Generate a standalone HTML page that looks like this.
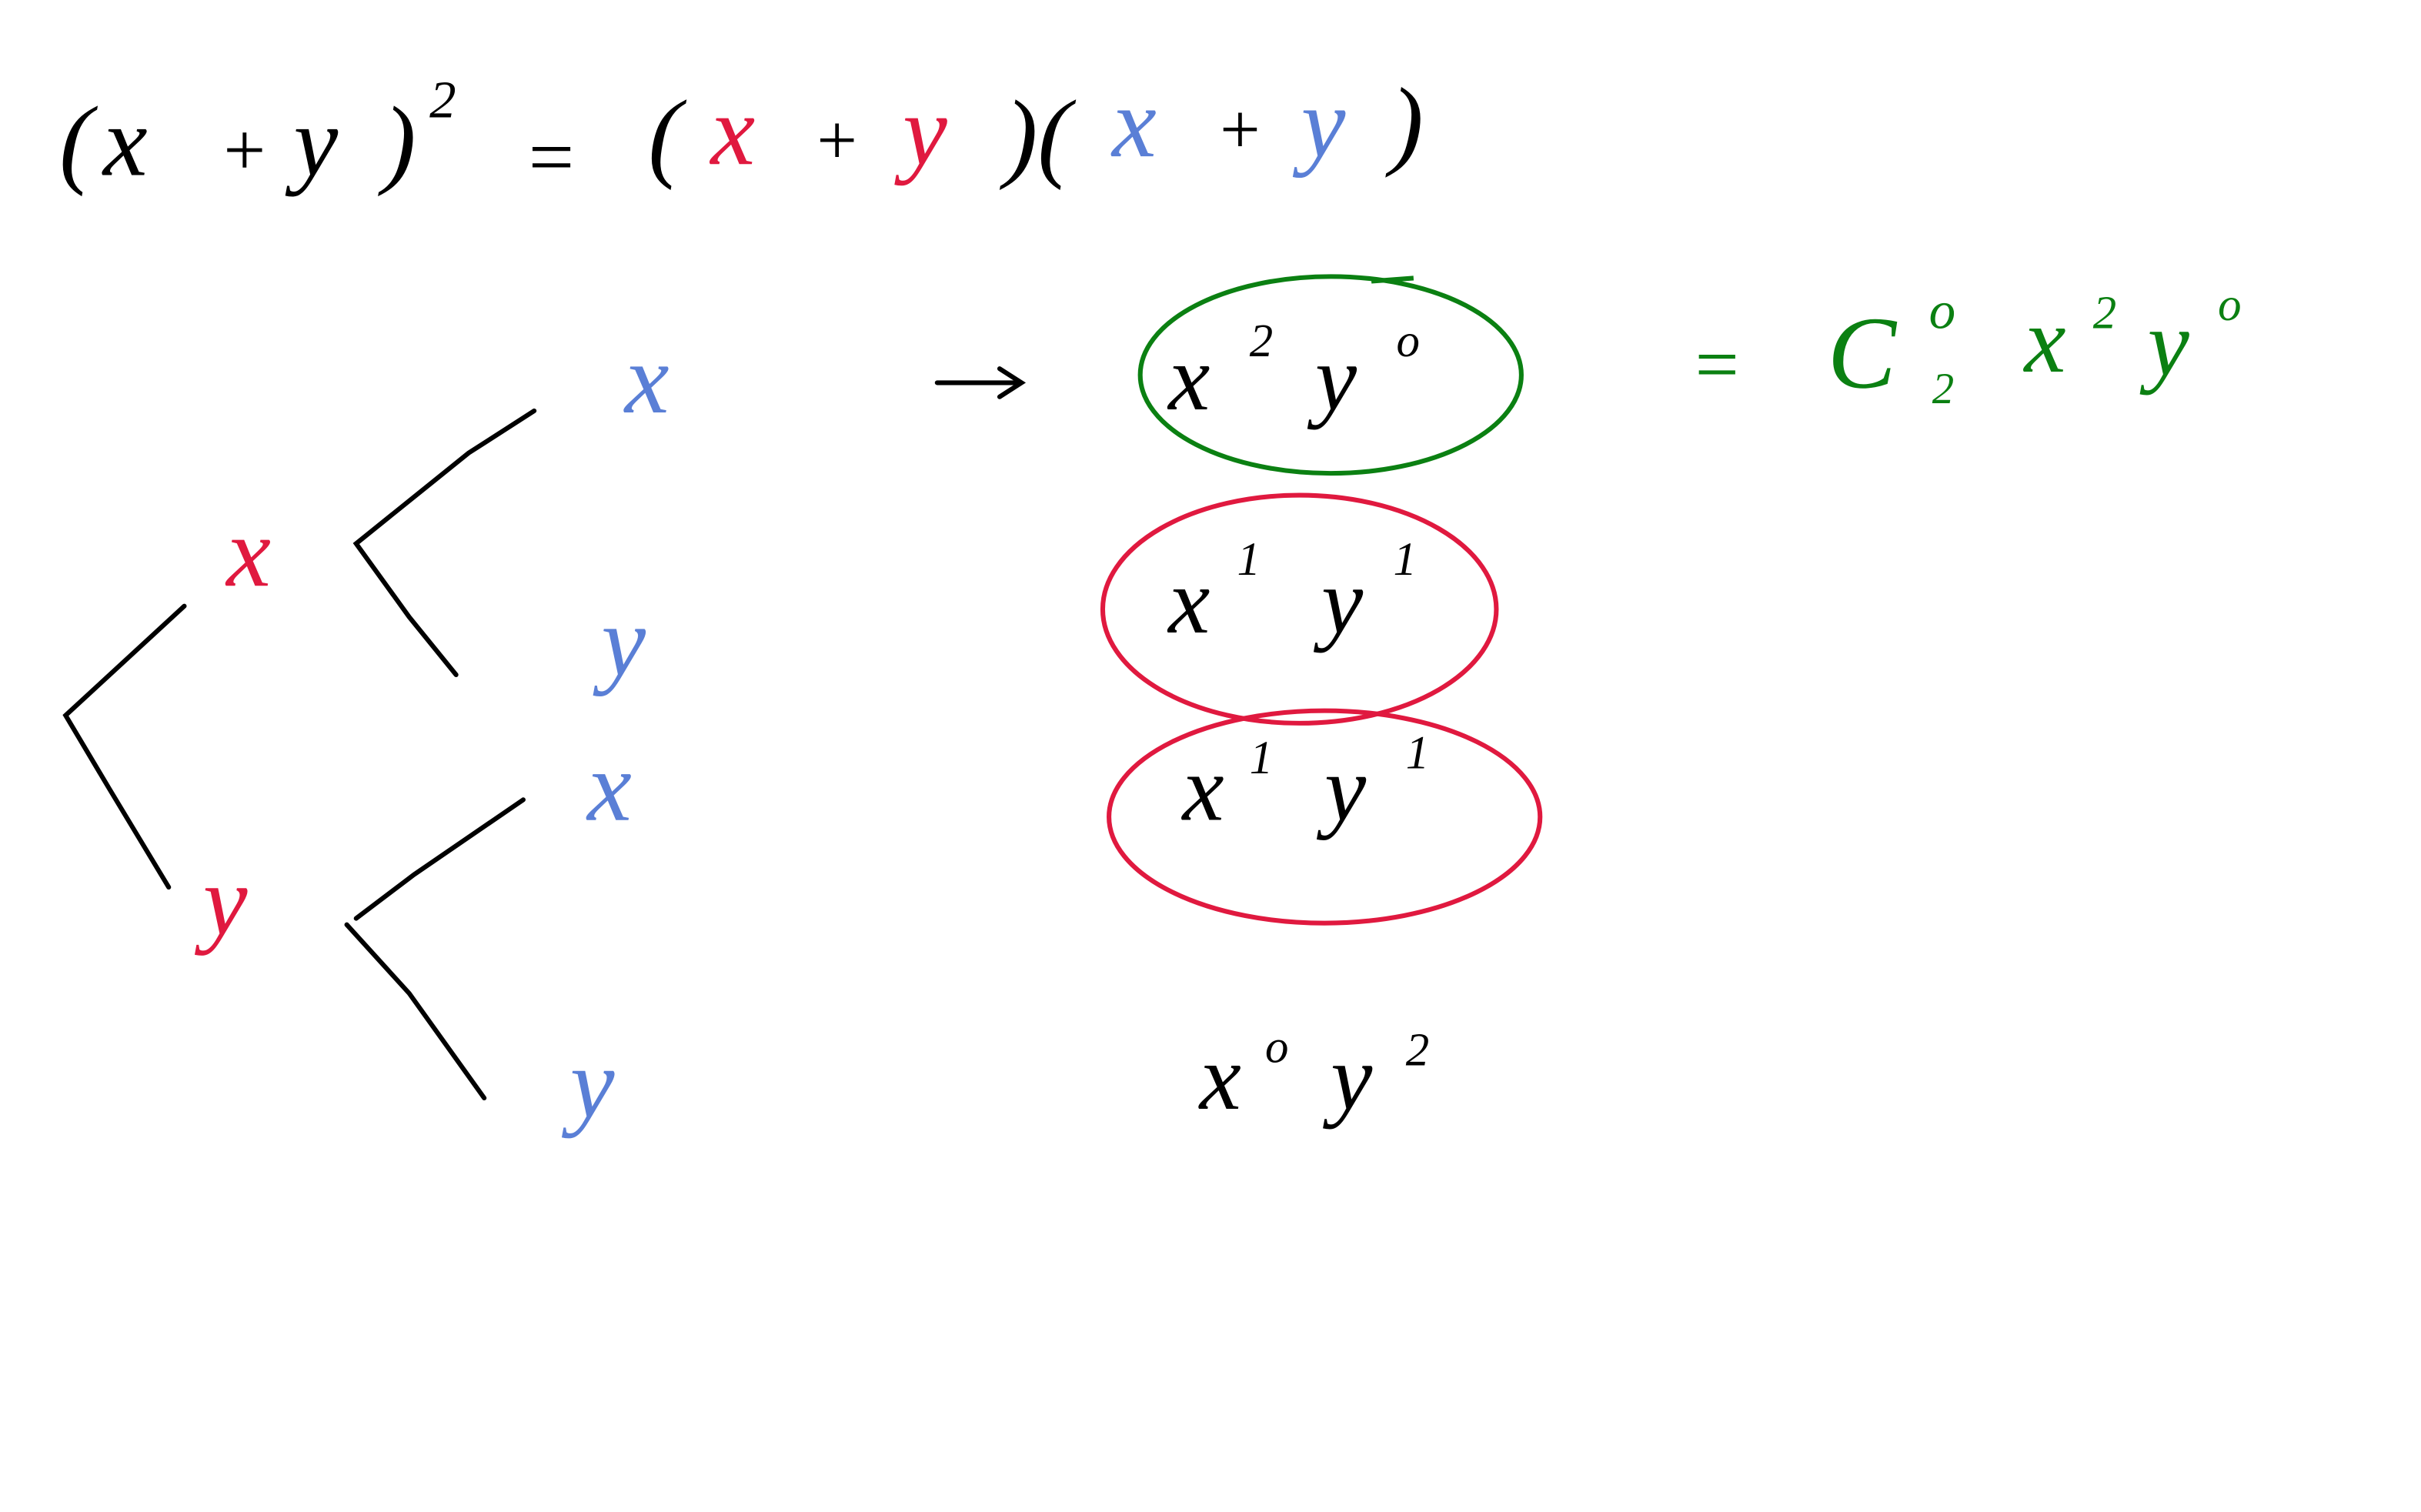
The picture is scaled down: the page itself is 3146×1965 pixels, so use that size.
<!DOCTYPE html>
<html><head><meta charset="utf-8"><style>
html,body{margin:0;padding:0;background:#fff;}
svg{display:block}
text{font-family:"Liberation Serif",serif;font-style:italic;}
</style></head><body>
<svg width="3146" height="1965" viewBox="0 0 1550 968" xmlns="http://www.w3.org/2000/svg">
<rect width="1550" height="968" fill="#fff"/>
<g font-size="64">
  <!-- top equation -->
  <text x="38" y="112" fill="#000" font-style="normal">(</text>
  <text x="66" y="112" fill="#000">x</text>
  <text x="140" y="112" fill="#000" font-style="normal" font-size="48">+</text>
  <text x="188" y="112" fill="#000">y</text>
  <text x="245" y="112" fill="#000" font-style="normal">)</text>
  <text x="275" y="75" fill="#000" font-size="34" font-style="normal">2</text>
  <text x="335" y="118" fill="#000" font-style="normal" font-size="52">=</text>
  <text x="415" y="108" fill="#000" font-style="normal">(</text>
  <text x="455" y="105" fill="#e0193f">x</text>
  <text x="520" y="105" fill="#000" font-style="normal" font-size="46">+</text>
  <text x="578" y="105" fill="#e0193f">y</text>
  <text x="643" y="108" fill="#000" font-style="normal">)(</text>
  <text x="712" y="100" fill="#5a7fd6">x</text>
  <text x="778" y="98" fill="#000" font-style="normal" font-size="46">+</text>
  <text x="833" y="100" fill="#5a7fd6">y</text>
  <text x="890" y="100" fill="#000" font-style="normal">)</text>
</g>
<!-- tree lines -->
<g stroke="#000" stroke-width="3" fill="none" stroke-linecap="round">
  <path d="M118 388 L42 458 L70 505 L108 568"/>
  <path d="M342 263 L300 290 L228 348 L262 395 L292 432"/>
  <path d="M335 512 L265 560 L228 588"/>
  <path d="M222 592 L262 636 L310 703"/>
  <path d="M600 245 L652 245 M640 236 L654 245 L640 254"/>
</g>
<g font-size="64">
  <text x="145" y="375" fill="#e0193f">x</text>
  <text x="130" y="598" fill="#e0193f">y</text>
  <text x="400" y="264" fill="#5a7fd6">x</text>
  <text x="385" y="432" fill="#5a7fd6">y</text>
  <text x="376" y="525" fill="#5a7fd6">x</text>
  <text x="365" y="715" fill="#5a7fd6">y</text>
</g>
<!-- ellipses -->
<g fill="none" stroke-width="3">
  <ellipse cx="852" cy="240" rx="122" ry="63" stroke="#0b8012"/>
  <path d="M878 180 L905 178" stroke="#0b8012"/>
  <ellipse cx="832" cy="390" rx="126" ry="73" stroke="#e0193f"/>
  <ellipse cx="848" cy="523" rx="138" ry="68" stroke="#e0193f"/>
</g>
<g font-size="60" fill="#000">
  <text x="748" y="262">x</text><text x="800" y="228" font-size="30" font-style="normal">2</text>
  <text x="842" y="262">y</text><text x="894" y="228" font-size="30" font-style="normal">o</text>
  <text x="748" y="405">x</text><text x="792" y="368" font-size="30" font-style="normal">1</text>
  <text x="846" y="405">y</text><text x="892" y="368" font-size="30" font-style="normal">1</text>
  <text x="757" y="525">x</text><text x="800" y="495" font-size="30" font-style="normal">1</text>
  <text x="848" y="525">y</text><text x="900" y="492" font-size="30" font-style="normal">1</text>
  <text x="768" y="710">x</text><text x="810" y="680" font-size="30" font-style="normal">o</text>
  <text x="852" y="710">y</text><text x="900" y="682" font-size="30" font-style="normal">2</text>
</g>
<g fill="#0b8012">
  <text x="1082" y="250" font-size="50" font-style="normal">=</text>
  <text x="1170" y="248" font-size="66" font-style="normal">C</text>
  <text x="1235" y="210" font-size="34" font-style="normal">o</text>
  <text x="1237" y="258" font-size="28" font-style="normal">2</text>
  <text x="1296" y="238" font-size="60">x</text>
  <text x="1340" y="210" font-size="30" font-style="normal">2</text>
  <text x="1375" y="240" font-size="60">y</text>
  <text x="1420" y="205" font-size="30" font-style="normal">o</text>
</g>
</svg>
</body></html>
